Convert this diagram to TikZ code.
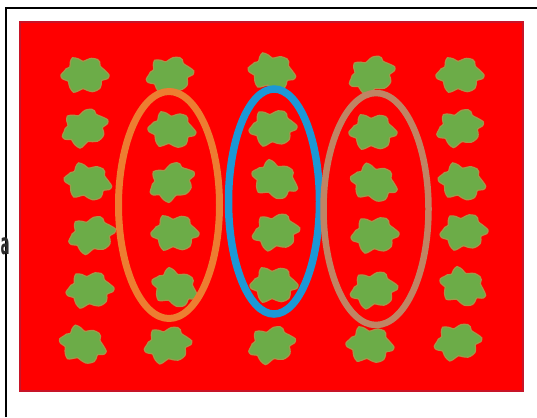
\documentclass[tikz,border=0pt]{standalone}
\usepackage{fontspec}
\newfontfamily\lettfont{DejaVu Sans}
\definecolor{bgred}{RGB}{255,0,0}
\definecolor{edgered}{RGB}{200,20,40}
\definecolor{leaf}{RGB}{108,172,72}
\definecolor{leafedge}{RGB}{165,150,75}
\definecolor{ringorange}{RGB}{237,125,49}
\definecolor{ringblue}{RGB}{28,152,214}
\definecolor{ringbrown}{RGB}{192,132,100}
\definecolor{lettergray}{RGB}{45,45,45}
\begin{document}
\begin{tikzpicture}[x=1pt,y=-1pt,
  frameline/.style={line width=2pt,black},
  ring/.style={line width=#1},
  pics/blob/.style={code={
    \fill[leaf,draw=leafedge,line width=1.2pt]
      plot[smooth cycle,domain=0:348,samples=30]
      ({(21.5+2.6*cos(6*\x)+1.2*sin(11*\x))*cos(\x)},{(16.5+2.4*cos(6*\x)+1*cos(9*\x))*sin(\x)});
  }}]
\useasboundingbox (0,0) rectangle (537,417);
\fill[white] (0,0) rectangle (537,417);
% frame
\draw[frameline] (6,417) -- (6,8) -- (537,8);
% red field
\fill[bgred,draw=edgered,line width=1.5pt] (20,22) rectangle (523,391);
% blobs
\foreach \px/\py/\r in {85/75/0,85/128/20,88/182/-10,92/235/15,90/290/5,83/345/-15,
  170/75/10,172/130/-5,172/182/25,175/233/0,175/288/-20,168/345/10,
  272/72/-10,273/128/5,275/180/-20,276/232/10,274/285/0,272/345/15,
  372/75/20,373/132/0,374/183/-15,375/235/5,374/290/10,370/345/-5,
  460/75/0,460/128/15,462/182/-10,464/232/5,463/287/-20,458/342/10}
  \pic[rotate=\r] at (\px,\py) {blob};
% rings
\draw[ring=7pt,ringorange] (169,205) ellipse [x radius=50.5,y radius=113.5];
\draw[ring=7.5pt,ringblue] (274,201.5) ellipse [x radius=45.5,y radius=112.5];
\draw[ring=6.5pt,ringbrown] (376,209) ellipse [x radius=52.5,y radius=116];
% letter at the left edge
\node[anchor=west,inner sep=0pt,text=lettergray,font=\fontsize{30}{30}\selectfont\lettfont\bfseries] (lett) at (0.5,246) {\scalebox{0.45}[1]{a}};
\end{tikzpicture}
\end{document}
